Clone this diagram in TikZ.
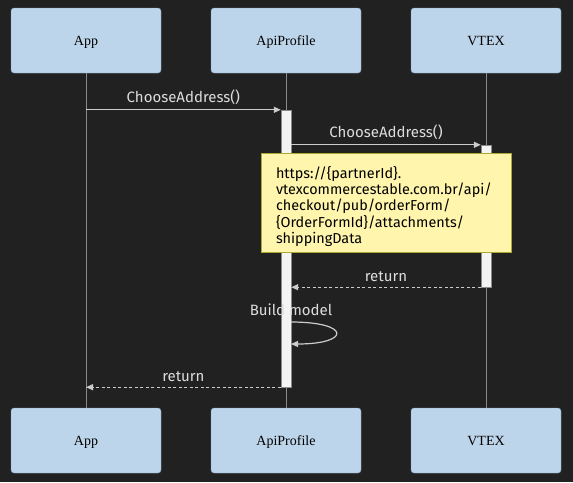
\documentclass[tikz,border=0pt]{standalone}
\usepackage{fontspec}
\setmainfont{Liberation Serif}
\newfontfamily\msgfont{Fira Sans}
\usetikzlibrary{arrows.meta}
\definecolor{bgcol}{HTML}{212121}
\definecolor{actorfill}{HTML}{BDD5EA}
\definecolor{actorline}{HTML}{7F9FBF}
\definecolor{lifecol}{HTML}{8A8A8A}
\definecolor{msgcol}{HTML}{CCCCCC}
\definecolor{lblcol}{HTML}{DDDDDD}
\definecolor{actfill}{HTML}{F4F4F4}
\definecolor{notefill}{HTML}{FFF5AD}
\definecolor{noteline}{HTML}{AAAA33}
\begin{document}
\begin{tikzpicture}[
    x=1pt, y=-1pt,
    actor/.style={draw=actorline, fill=actorfill, rounded corners=3pt,
                  minimum width=150pt, minimum height=65pt, text height=9.5pt, text depth=0pt,
                  font=\fontsize{14}{16}\selectfont},
    life/.style={draw=lifecol, line width=0.8pt},
    act/.style={draw=lifecol, fill=actfill, minimum width=10pt, inner sep=0pt},
    msg/.style={-{Stealth[length=7pt, width=6pt, inset=0pt]}, draw=msgcol, line width=1.2pt},
    reply/.style={msg, dash pattern=on 3pt off 2.5pt},
    lbl/.style={text=lblcol, font=\msgfont\fontsize{15}{17}\selectfont, inner sep=2pt},
    note/.style={draw=noteline, fill=notefill, minimum width=250pt, minimum height=99pt,
                 text width=220pt, align=left, inner xsep=15pt,
                 font=\msgfont\fontsize{14.4}{16.3}\selectfont}
  ]
  \fill[bgcol] (0,0) rectangle (573,482);

  \foreach \n/\t/\x in {app/App/86, api/ApiProfile/286, vtex/VTEX/486} {
    \node[actor] (\n top) at (\x,40.5) {\t};
    \node[actor] (\n bot) at (\x,440.5) {\t};
    \draw[life] (\n top) -- (\n bot);
  }

  \node[act, minimum height=277pt] (apiact) at (286,248.5) {};
  \node[act, minimum height=142pt] (vtexact) at (486,216) {};

  \draw[msg] (apptop |- apiact.north) -- node[lbl, above=3pt] {ChooseAddress()} (apiact.north west);
  \draw[msg] (apiact.east |- vtexact.north) -- node[lbl, above=3pt] {ChooseAddress()} (vtexact.north west);

  \node[note] (url) at (386,202.5) {\rule{0pt}{20pt}https://\{partnerId\}.\\vtexcommercestable.com.br/api/\\checkout/pub/orderForm/\\\{OrderFormId\}/attachments/\\shippingData};

  \draw[reply] (vtexact.south west) -- node[lbl, above=3pt] {return} (apiact.east |- vtexact.south);

  % self call
  \coordinate (loopa) at (291,322);
  \coordinate (loopb) at (291,344);
  \node[lbl] (build) at (291,310) {Build model};
  \draw[msg] (loopa) .. controls +(60,0) and +(60,0) .. (loopb);

  \draw[reply] (apiact.south west) -- node[lbl, above=3pt] {return} (apptop |- apiact.south);
\end{tikzpicture}
\end{document}
